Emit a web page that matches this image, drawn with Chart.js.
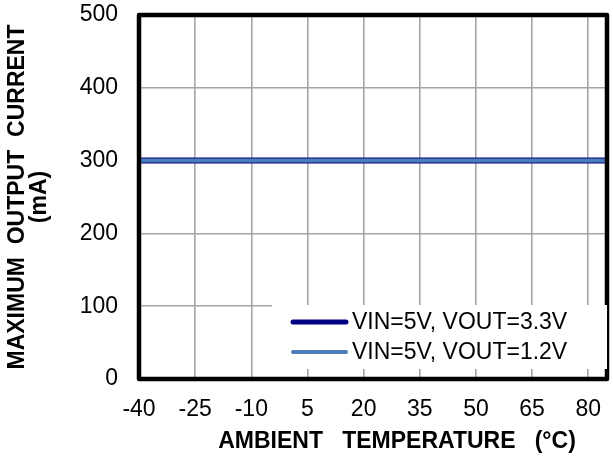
<!DOCTYPE html>
<html lang="en">
<head>
  <meta charset="UTF-8">
  <title>Maximum Output Current vs Ambient Temperature</title>
  <script src="https://cdn.jsdelivr.net/npm/chart.js"></script>
  <style>
    body, html {
      margin: 0;
      background: #fff;
    }
    #wrap {
      width: 613px;
      height: 460px;
    }
  </style>
</head>
<body>
  <div id="wrap"><canvas id="chart" width="613" height="460"></canvas></div>

  <script>
    // data
    var temps = [-40, -25, -10, 5, 20, 35, 50, 65, 80, 85];
    var iout33 = [300, 300, 300, 300, 300, 300, 300, 300, 300, 300];
    var iout12 = [300, 300, 300, 300, 300, 300, 300, 300, 300, 300];
    var xTicks = [-40, -25, -10, 5, 20, 35, 50, 65, 80];
    var yTicks = [0, 100, 200, 300, 400, 500];
    var seriesNames = ['VIN=5V, VOUT=3.3V', 'VIN=5V, VOUT=1.2V'];
    var xTitle = 'AMBIENT   TEMPERATURE   (°C)';
    var yTitle = ['MAXIMUM  OUTPUT  CURRENT', '(mA)'];

    var FONT = '"Liberation Sans", Arial, sans-serif';

    function toPoints(xs, ys) {
      return xs.map(function(x, i) { return { x: x, y: ys[i] }; });
    }

    // thick black frame around plot area
    var framePlugin = {
      id: 'frame',
      afterDatasetsDraw: function(chart) {
        var a = chart.chartArea, ctx = chart.ctx;
        ctx.save();
        ctx.strokeStyle = '#000';
        ctx.lineWidth = 4.5;
        ctx.lineJoin = 'round';
        ctx.strokeRect(a.left, a.top, a.right - a.left, a.bottom - a.top);
        ctx.restore();
      }
    };

    // x title sits a bit right of the plot centre in the original
    var xTitlePlugin = {
      id: 'xTitle',
      afterDraw: function(chart) {
        var ctx = chart.ctx;
        ctx.save();
        ctx.font = 'bold 23px ' + FONT;
        ctx.fillStyle = '#000';
        ctx.textAlign = 'center';
        ctx.textBaseline = 'middle';
        ctx.fillText(xTitle, 397, 442);
        ctx.restore();
      }
    };

    // legend box sitting in the lower right corner of the plot
    var legendPlugin = {
      id: 'boxLegend',
      afterDatasetsDraw: function(chart) {
        var a = chart.chartArea, ctx = chart.ctx;
        var boxLeft = 272, boxTop = 305, boxBottom = 369;
        ctx.save();
        ctx.fillStyle = '#fff';
        ctx.fillRect(boxLeft, boxTop, a.right - boxLeft, boxBottom - boxTop);
        ctx.font = '23px ' + FONT;
        ctx.textBaseline = 'middle';
        var items = chart.data.datasets.slice().sort(function(p, q) { return p.legendPos - q.legendPos; });
        items.forEach(function(ds, i) {
          var y = 322 + i * 30;
          ctx.strokeStyle = ds.borderColor;
          ctx.lineWidth = ds.legendWidth;
          ctx.lineCap = 'round';
          ctx.beginPath();
          ctx.moveTo(293, y);
          ctx.lineTo(346, y);
          ctx.stroke();
          ctx.fillStyle = '#000';
          ctx.fillText(ds.label, 352, y + 1);
        });
        ctx.restore();
      }
    };

    new Chart(document.getElementById('chart'), {
      type: 'line',
      data: {
        datasets: [
          {
            label: seriesNames[0],
            data: toPoints(temps, iout33),
            borderColor: '#000080',
            borderWidth: 6,
            legendWidth: 5,
            legendPos: 0,
            order: 1,
            pointRadius: 0
          },
          {
            label: seriesNames[1],
            data: toPoints(temps, iout12),
            borderColor: '#4a7ebb',
            borderWidth: 4,
            legendWidth: 4,
            legendPos: 1,
            order: 0,
            pointRadius: 0
          }
        ]
      },
      options: {
        responsive: false,
        animation: false,
        layout: { padding: { left: 0, top: 15, right: 6, bottom: 0 } },
        plugins: {
          legend: { display: false },
          tooltip: { enabled: false }
        },
        scales: {
          x: {
            type: 'linear',
            min: -40,
            max: 85,
            afterBuildTicks: function(scale) {
              scale.ticks = xTicks.map(function(v) { return { value: v }; });
            },
            afterFit: function(scale) {
              scale.height = 81;
              scale.paddingLeft = 0;
              scale.paddingRight = 0;
            },
            grid: { color: '#a6a6a6', lineWidth: 1.6, drawTicks: false },
            border: { display: false },
            ticks: {
              padding: 17,
              color: '#000',
              font: { family: FONT, size: 23 },
              maxRotation: 0,
              autoSkip: false
            },
            title: { display: false }
          },
          y: {
            min: 0,
            max: 500,
            afterBuildTicks: function(scale) {
              scale.ticks = yTicks.map(function(v) { return { value: v }; });
            },
            afterFit: function(scale) {
              scale.width = 139;
              scale.paddingTop = 0;
              scale.paddingBottom = 0;
            },
            grid: { color: '#a6a6a6', lineWidth: 1.6, drawTicks: false },
            border: { display: false },
            ticks: {
              padding: 21,
              color: '#000',
              font: { family: FONT, size: 23 }
            },
            title: {
              display: true,
              text: yTitle,
              color: '#000',
              font: { family: FONT, size: 23, weight: 'bold', lineHeight: 0.95 },
              padding: { top: 7 }
            }
          }
        }
      },
      plugins: [framePlugin, legendPlugin, xTitlePlugin]
    });
  </script>
</body>
</html>
